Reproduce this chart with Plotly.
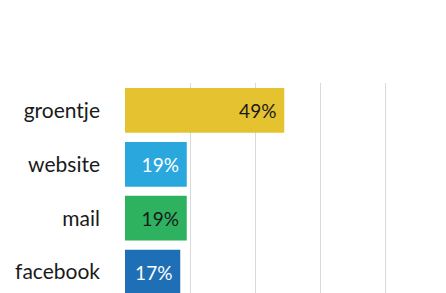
import plotly.graph_objects as go

categories = ["groentje", "website", "mail", "facebook"]
values = [49, 19, 19, 17]
bar_colors = ["#E5C22F", "#2AA8DE", "#2EB25F", "#1E6FB6"]
text_colors = ["#1a1a1a", "#ffffff", "#1a1a1a", "#ffffff"]
tick_vals = [0, 20, 40, 60, 80, 100]

fig = go.Figure(go.Bar(
    x=values,
    y=categories,
    orientation="h",
    marker=dict(color=bar_colors, line=dict(width=0)),
    texttemplate="%{x}%\u00a0",
    textposition="inside",
    insidetextanchor="end",
    textangle=0,
    textfont=dict(family="Lato", size=19, color=text_colors),
    cliponaxis=False,
))

# page body has an 8px default margin, so offsets are reduced by 8px
fig.update_layout(
    width=438, height=285,
    margin=dict(l=117, r=0, t=75, b=0),
    paper_bgcolor="white",
    plot_bgcolor="white",
    bargap=0.17,
    showlegend=False,
    xaxis=dict(
        range=[0, 98.77],
        tickvals=tick_vals,
        showticklabels=False,
        showgrid=True,
        gridcolor="#d9d9d9",
        gridwidth=1,
        zeroline=False,
        showline=False,
        automargin=False,
        fixedrange=True,
    ),
    yaxis=dict(
        categoryorder="array",
        categoryarray=categories,
        range=[3.39, -0.51],
        showgrid=False,
        zeroline=False,
        showline=False,
        ticks="",
        automargin=False,
        ticklabelstandoff=24,
        tickfont=dict(family="Lato", size=21, color="#1a1a1a"),
        fixedrange=True,
    ),
)

fig.write_html("out.html")
